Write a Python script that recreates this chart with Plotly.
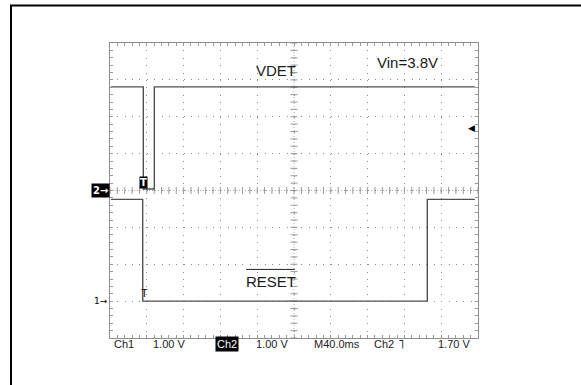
import numpy as np
import plotly.graph_objects as go

# ---- scope settings ----
TIME_PER_DIV_MS = 40.0
N_DIV_X = 10
N_DIV_Y = 8
VOLTS_PER_DIV = 1.0
CH1_GROUND_DIV = 1.0      # Ch1 reference marker ("1")
CH2_GROUND_DIV = 4.0      # Ch2 reference marker ("2")
TRIG_LEVEL_V = 1.70
TRIG_TIME_MS = 36.2
VIN_LABEL = "Vin=3.8V"

# ---- Ch2: VDET (volts above Ch2 ground) ----
vdet_t = [1.0, 36.2, 36.2, 48.2, 48.2, 396.5]
vdet_v = [2.81, 2.81, 0.04, 0.04, 2.81, 2.81]

# ---- Ch1: RESET (active low, volts above Ch1 ground) ----
reset_t = [1.0, 35.5, 35.6, 344.9, 344.9, 396.5]
reset_v = [2.76, 2.76, 0.0, 0.0, 2.76, 2.76]

# ---- status line under the graticule ----
status_text = ["Ch1", f"{VOLTS_PER_DIV:.2f} V", "Ch2", f"{VOLTS_PER_DIV:.2f} V",
               f"M{TIME_PER_DIV_MS:.1f}ms", "Ch2", "\u02e5", f"{TRIG_LEVEL_V:.2f} V"]

# layout geometry (pixels)
W, H = 581, 385
L, R, T, B = 110, 103, 43, 47
PW, PH = W - L - R, H - T - B
status_left_px = [113, 152, 215, 255, 313, 373, 397, 437]
status_boxed = [False, False, True, False, False, False, False, False]


def px_to_paper_x(px):
    return (px - L) / PW


def px_to_paper_y(py):
    return (H - B - py) / PH


x_max = TIME_PER_DIV_MS * N_DIV_X
to_div = lambda volts, ground: [ground + v / VOLTS_PER_DIV for v in volts]

fig = go.Figure()

# graticule centre-line cross ticks
minor_x = np.arange(0, x_max + 1e-6, TIME_PER_DIV_MS / 5)
minor_y = np.arange(0, N_DIV_Y + 1e-6, 0.2)
fig.add_trace(go.Scatter(x=minor_x, y=[N_DIV_Y / 2] * len(minor_x), mode="markers",
                         marker=dict(symbol="line-ns", size=5,
                                     line=dict(color="#9a9a9a", width=1)),
                         hoverinfo="skip", showlegend=False))
fig.add_trace(go.Scatter(x=[x_max / 2] * len(minor_y), y=minor_y, mode="markers",
                         marker=dict(symbol="line-ew", size=5,
                                     line=dict(color="#9a9a9a", width=1)),
                         hoverinfo="skip", showlegend=False))

trace_style = dict(color="#505050", width=1.4)
fig.add_trace(go.Scatter(x=vdet_t, y=to_div(vdet_v, CH2_GROUND_DIV), mode="lines",
                         line=trace_style, name="VDET", showlegend=False))
fig.add_trace(go.Scatter(x=reset_t, y=to_div(reset_v, CH1_GROUND_DIV), mode="lines",
                         line=trace_style, name="RESET", showlegend=False))

shapes = []
# dense centre lines
shapes.append(dict(type="line", xref="x", yref="y", x0=x_max / 2, x1=x_max / 2,
                   y0=0, y1=N_DIV_Y, line=dict(color="#b0b0b0", width=1, dash="1px,2px"),
                   layer="below"))
shapes.append(dict(type="line", xref="x", yref="y", x0=0, x1=x_max,
                   y0=N_DIV_Y / 2, y1=N_DIV_Y / 2,
                   line=dict(color="#b0b0b0", width=1, dash="1px,2px"), layer="below"))
# overline over RESET
shapes.append(dict(type="line", xref="x", yref="y", x0=148, x1=201, y0=1.86, y1=1.86,
                   line=dict(color="#222", width=1)))
# outer frame
shapes.append(dict(type="rect", xref="paper", yref="paper",
                   x0=px_to_paper_x(11), x1=px_to_paper_x(W + 20),
                   y0=px_to_paper_y(H + 20), y1=px_to_paper_y(5.5),
                   line=dict(color="black", width=2), fillcolor="rgba(0,0,0,0)"))

label_font = dict(family="Liberation Sans, Arial, sans-serif", color="#1a1a1a")
ann = []
ann.append(dict(x=180, y=7.26, xref="x", yref="y", text="VDET", showarrow=False,
                font=dict(size=15, **label_font)))
ann.append(dict(x=323, y=7.48, xref="x", yref="y", text=VIN_LABEL, showarrow=False,
                font=dict(size=15, **label_font)))
ann.append(dict(x=175, y=1.52, xref="x", yref="y", text="RESET", showarrow=False,
                font=dict(size=15, **label_font)))

# channel ground markers
ann.append(dict(x=0, y=CH2_GROUND_DIV, xref="paper", yref="y", xanchor="right",
                yanchor="middle", text="<b>2\u2192</b>", showarrow=False,
                bgcolor="black", borderpad=1,
                font=dict(family="DejaVu Sans", size=10, color="white")))
ann.append(dict(x=0, y=CH1_GROUND_DIV, xref="paper", yref="y", xanchor="right",
                yanchor="middle", text="1\u2192", showarrow=False,
                font=dict(family="DejaVu Sans", size=9, color="black")))
# trigger position / level markers
ann.append(dict(x=TRIG_TIME_MS, y=CH2_GROUND_DIV + 0.05, xref="x", yref="y",
                xanchor="center", yanchor="bottom", text="<b>T</b>", showarrow=False,
                bgcolor="black", borderpad=0,
                font=dict(family="DejaVu Sans", size=10, color="white")))
ann.append(dict(x=TRIG_TIME_MS + 0.8, y=CH1_GROUND_DIV, xref="x", yref="y",
                xanchor="center", yanchor="bottom", text="T", showarrow=False,
                font=dict(family="Liberation Sans, Arial, sans-serif", size=11,
                          color="#111")))
ann.append(dict(x=1, y=CH2_GROUND_DIV + TRIG_LEVEL_V / VOLTS_PER_DIV,
                xref="paper", yref="y", xanchor="right", yanchor="middle",
                text="\u25c0", showarrow=False, xshift=-1,
                font=dict(family="DejaVu Sans", size=9, color="black")))

# status line
for txt, px, boxed in zip(status_text, status_left_px, status_boxed):
    is_symbol = txt == "\u02e5"
    ann.append(dict(x=px_to_paper_x(px), y=px_to_paper_y(343.5), xref="paper",
                    yref="paper", xanchor="left", yanchor="middle", text=txt,
                    showarrow=False, borderpad=1 if boxed else 0,
                    bgcolor="black" if boxed else None,
                    font=dict(family="DejaVu Sans" if is_symbol
                              else "Liberation Sans, Arial, sans-serif",
                              size=13 if is_symbol else 11,
                              color="white" if boxed else "#222")))

axis_common = dict(showline=True, linecolor="#8c8c8c", linewidth=1, mirror="ticks",
                   ticks="inside", ticklen=3, tickcolor="#9a9a9a",
                   showticklabels=False, zeroline=False, showgrid=True,
                   gridcolor="#8a8a8a", gridwidth=1, fixedrange=True)

fig.update_xaxes(range=[0, x_max], tick0=0, dtick=TIME_PER_DIV_MS,
                 griddash="1px,6.375px",
                 minor=dict(dtick=TIME_PER_DIV_MS / 5, ticks="inside", ticklen=3,
                            tickcolor="#9a9a9a", showgrid=False),
                 **axis_common)
fig.update_yaxes(range=[0, N_DIV_Y], tick0=0, dtick=1,
                 griddash="1px,6.36px",
                 minor=dict(dtick=0.2, ticks="inside", ticklen=3,
                            tickcolor="#9a9a9a", showgrid=False),
                 **axis_common)

fig.update_layout(width=W, height=H, autosize=False,
                  margin=dict(l=L, r=R, t=T, b=B, pad=0),
                  paper_bgcolor="white", plot_bgcolor="white",
                  shapes=shapes, annotations=ann, showlegend=False)

fig.write_html("out.html")
